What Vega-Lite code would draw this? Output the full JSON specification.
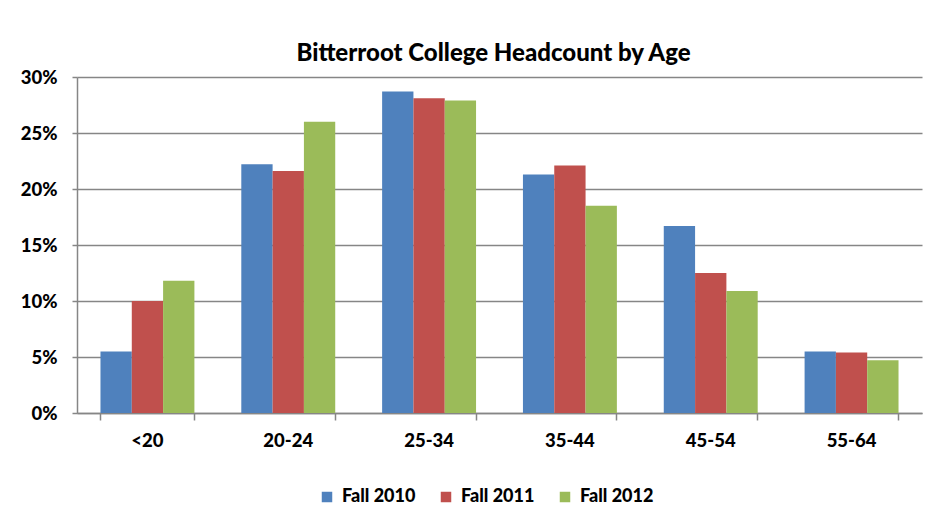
{
  "$schema": "https://vega.github.io/schema/vega-lite/v6.json",
  "width": 845,
  "height": 336,
  "autosize": {"type": "none"},
  "padding": {"left": 77, "top": 77, "right": 29, "bottom": 119},
  "background": "white",
  "title": {
    "text": "Bitterroot College Headcount by Age",
    "font": "Lato",
    "fontSize": 24,
    "fontWeight": 900,
    "color": "#000000",
    "anchor": "middle",
    "dx": -6,
    "offset": 2
  },
  "data": {
    "values": [
      {"age": "<20", "term": "Fall 2010", "pct": 0.055},
      {"age": "<20", "term": "Fall 2011", "pct": 0.100},
      {"age": "<20", "term": "Fall 2012", "pct": 0.118},
      {"age": "20-24", "term": "Fall 2010", "pct": 0.222},
      {"age": "20-24", "term": "Fall 2011", "pct": 0.216},
      {"age": "20-24", "term": "Fall 2012", "pct": 0.260},
      {"age": "25-34", "term": "Fall 2010", "pct": 0.287},
      {"age": "25-34", "term": "Fall 2011", "pct": 0.281},
      {"age": "25-34", "term": "Fall 2012", "pct": 0.279},
      {"age": "35-44", "term": "Fall 2010", "pct": 0.213},
      {"age": "35-44", "term": "Fall 2011", "pct": 0.221},
      {"age": "35-44", "term": "Fall 2012", "pct": 0.185},
      {"age": "45-54", "term": "Fall 2010", "pct": 0.167},
      {"age": "45-54", "term": "Fall 2011", "pct": 0.125},
      {"age": "45-54", "term": "Fall 2012", "pct": 0.109},
      {"age": "55-64", "term": "Fall 2010", "pct": 0.055},
      {"age": "55-64", "term": "Fall 2011", "pct": 0.054},
      {"age": "55-64", "term": "Fall 2012", "pct": 0.047}
    ]
  },
  "mark": {"type": "bar"},
  "encoding": {
    "x": {
      "field": "age",
      "type": "nominal",
      "sort": ["<20", "20-24", "25-34", "35-44", "45-54", "55-64"],
      "scale": {"paddingInner": 0.333, "paddingOuter": 0.1667},
      "axis": {
        "title": null,
        "labelAngle": 0,
        "labelFont": "Lato",
        "labelFontSize": 18.5,
        "labelFontWeight": 900,
        "labelColor": "#000000",
        "labelPadding": 11,
        "bandPosition": 1,
        "tickExtra": true,
        "tickSize": 7,
        "tickColor": "#868686",
        "tickWidth": 1.5,
        "domainColor": "#868686",
        "domainWidth": 1.5,
        "grid": false
      }
    },
    "xOffset": {
      "field": "term",
      "type": "nominal",
      "scale": {"paddingInner": 0, "paddingOuter": 0}
    },
    "y": {
      "field": "pct",
      "type": "quantitative",
      "scale": {"domain": [0, 0.3], "nice": false},
      "axis": {
        "title": null,
        "format": ".0%",
        "values": [0, 0.05, 0.1, 0.15, 0.2, 0.25, 0.3],
        "labelFont": "Lato",
        "labelFontSize": 18.5,
        "labelFontWeight": 900,
        "labelColor": "#000000",
        "labelPadding": 15,
        "tickSize": 5,
        "tickColor": "#868686",
        "tickWidth": 1.5,
        "domainColor": "#868686",
        "domainWidth": 1.5,
        "grid": true,
        "gridColor": "#868686",
        "gridWidth": 1.5
      }
    },
    "color": {
      "field": "term",
      "type": "nominal",
      "scale": {
        "domain": ["Fall 2010", "Fall 2011", "Fall 2012"],
        "range": ["#4F81BD", "#C0504D", "#9BBB59"]
      },
      "legend": {
        "title": null,
        "orient": "none",
        "legendX": 241,
        "legendY": 411,
        "direction": "horizontal",
        "symbolType": "square",
        "symbolSize": 110,
        "symbolStrokeWidth": 0,
        "labelFont": "Lato",
        "labelFontSize": 18,
        "labelFontWeight": 900,
        "labelColor": "#000000",
        "labelOffset": 6,
        "columnPadding": 21
      }
    }
  },
  "config": {
    "view": {"stroke": null}
  }
}
